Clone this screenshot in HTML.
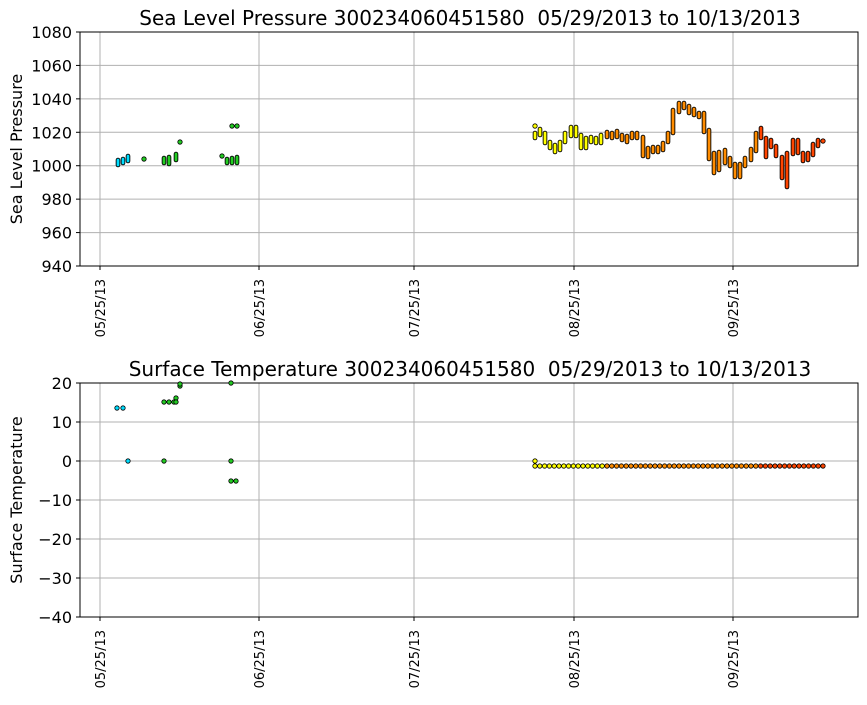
<!DOCTYPE html>
<html><head><meta charset="utf-8"><style>
body{margin:0;background:#fff;}
svg text{font-family:"DejaVu Sans","Liberation Sans",sans-serif;fill:#000;white-space:pre;}
</style></head><body>
<svg id="s" width="867" height="700" xmlns="http://www.w3.org/2000/svg">
<rect width="867" height="700" fill="#fff"/>
<g id="g"></g>
</svg>
<script>
const g=document.getElementById('g');let h='';
const xt=[100,259,414,574,733],xl=['05/25/13','06/25/13','07/25/13','08/25/13','09/25/13'];
function col(x){if(x<140)return'#00ddff';if(x<300)return'#22cc22';if(x<603)return'#ffff00';if(x<759)return'#ff8c00';return'#ff4500';}
function axes(y0,y1,vals,title,ylab){
 const n=vals.length;
 for(let i=0;i<n;i++){const y=y0+(y1-y0)*i/(n-1);
  h+=`<line x1="80" x2="858" y1="${y}" y2="${y}" stroke="#b0b0b0" stroke-width="1"/>`;
  h+=`<line x1="76" x2="80" y1="${y}" y2="${y}" stroke="#000"/>`;
  h+=`<text x="72" y="${y+6}" font-size="16" text-anchor="end">${vals[i]}</text>`;}
 xt.forEach((x,i)=>{h+=`<line x1="${x}" x2="${x}" y1="${y0}" y2="${y1}" stroke="#b0b0b0"/>`;
  h+=`<line x1="${x}" x2="${x}" y1="${y1}" y2="${y1+4}" stroke="#000"/>`;
  h+=`<text transform="translate(${x+5},${y1+13}) rotate(-90)" font-size="13" text-anchor="end">${xl[i]}</text>`;});
 h+=`<rect x="80" y="${y0}" width="778" height="${y1-y0}" fill="none" stroke="#000"/>`;
 h+=`<text x="470" y="${y0-7}" font-size="20" text-anchor="middle" xml:space="preserve">${title}</text>`;
 h+=`<text transform="translate(22,${(y0+y1)/2}) rotate(-90)" font-size="16" text-anchor="middle">${ylab}</text>`;
}
axes(32,266,[1080,1060,1040,1020,1000,980,960,940],'Sea Level Pressure 300234060451580  05/29/2013 to 10/13/2013','Sea Level Pressure');
axes(383,617,[20,10,0,'\u221210','\u221220','\u221230','\u221240'],'Surface Temperature 300234060451580  05/29/2013 to 10/13/2013','Surface Temperature');
function bar(x,a,b){const c=col(x);h+=`<line x1="${x}" x2="${x}" y1="${a}" y2="${b}" stroke="#000" stroke-width="4.6" stroke-linecap="round"/><line x1="${x}" x2="${x}" y1="${a}" y2="${b}" stroke="${c}" stroke-width="2.8" stroke-linecap="round"/>`;}
function dot(x,y){h+=`<circle cx="${x}" cy="${y}" r="2.2" fill="${col(x)}" stroke="#000" stroke-width="0.8"/>`;}
const bars=[[535,133,138],[540,129,135],[545,133,143],[550,142,148],[555,145,152],[560,142,150],[565,133,142],[571,127,136],[576,127,136],[581,135,148],[586,138,148],[591,137,142],[596,138,143],[601,135,143],[607,132,137],[612,133,138],[617,131,137],[622,135,140],[627,136,142],[632,133,138],[637,133,138],[643,137,156],[648,148,157],[653,147,152],[658,147,152],[663,143,150],[668,133,142],[673,110,133],[679,103,112],[684,103,108],[689,106,113],[694,109,115],[699,113,117],[704,113,132],[709,130,159],[714,153,173],[719,152,170],[725,150,163],[730,158,166],[735,164,177],[740,164,177],[745,158,166],[751,149,160],[756,133,151],[761,128,138],[766,138,157],[771,140,147],[776,146,156],[782,157,178],[787,153,187],[793,140,154],[798,140,153],[803,153,161],[808,153,160],[813,144,155],[818,140,146],
[118,160,165],[123,159,163],[128,156,161],[164,158,163],[169,157,164],[176,154,160],[227,159,163],[232,158,163],[237,157,163]];
bars.forEach(b=>bar(...b));
[[535,126],[823,141],[144,159],[180,142],[222,156],[232,126],[237,126]].forEach(d=>dot(...d));
[[117,408],[123,408],[128,461],[164,461],[164,402],[169,402],[174,402],[176,398],[176,402],[180,386],[180,384],[231,461],[231,481],[236,481],[231,383],[535,461]].forEach(d=>dot(...d));
for(let x=535;x<=823;x+=4.8)dot(x,466);
g.innerHTML=h;
</script>
</body></html>
